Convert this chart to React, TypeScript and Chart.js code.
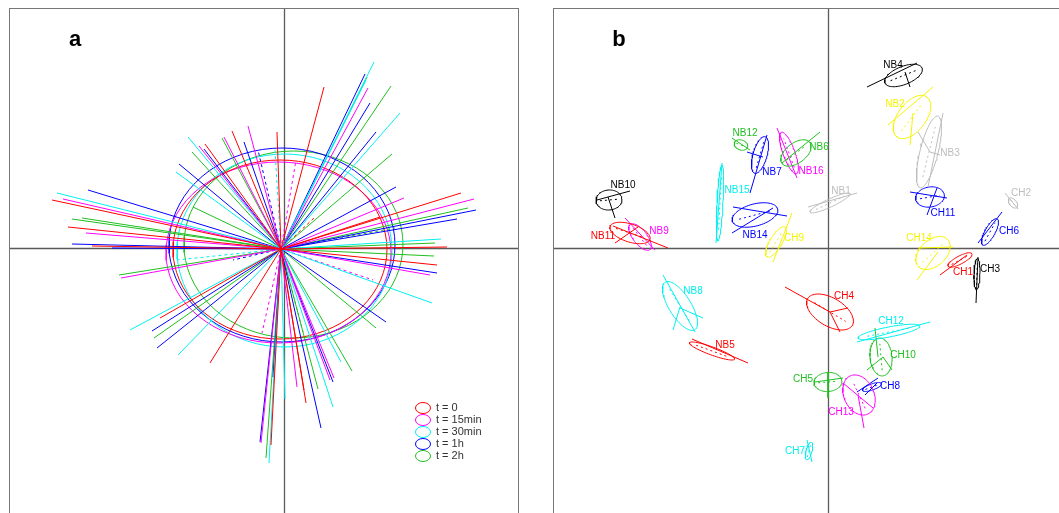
import { useEffect, useRef } from 'react';
import { Chart, registerables } from 'chart.js';
Chart.register(...registerables);

// ---------- Panel a: time points ----------
const timeLabels = ['t = 0', 't = 15min', 't = 30min', 't = 1h', 't = 2h'];
const timeColors = ['#ff0000', '#ff00ff', '#00f0f0', '#0000ff', '#1fbf1f'];
// ellipse per time point: [cx, cy, rx, ry, angleDeg]
const timeEllipses = [
  [-0.04, -0.015, 1.07, 0.895, 0],
  [-0.055, -0.045, 1.125, 0.905, 0],
  [0.005, -0.025, 1.075, 0.965, 0],
  [-0.02, 0.03, 1.13, 0.97, 0],
  [0.095, 0.035, 1.095, 0.935, 0],
];
const rayOrigin = [-0.03, -0.01];
const raysT0 = [
  [0.40, 1.61], [-0.07, 1.16], [1.77, 0.55], [0.96, 0.31], [1.63, 0.01], [1.53, -0.17],
  [0.20, -1.42], [-0.13, -1.97], [-0.74, -1.15], [-1.24, -0.70], [-2.32, 0.48],
  [-2.16, 0.21], [-1.92, 0.02], [-0.79, 1.04], [-0.52, 1.17], [0.22, -1.55],
];
const raysT15 = [
  [0.84, 1.60], [1.20, 0.50], [1.90, 0.49], [1.46, -0.27], [0.46, -1.32], [0.13, -1.39],
  [-0.23, -1.95], [-1.63, -0.30], [-2.21, 0.49], [-0.85, 1.02], [-0.60, 1.11],
  [-0.36, 1.22], [-1.98, 0.15], [0.50, -1.30],
];
const raysT30 = [
  [0.90, 1.86], [1.16, 1.35], [1.57, 0.09], [1.48, -0.55], [0.57, -1.14], [0.49, -1.59],
  [0.01, -1.51], [-0.15, -2.15], [-1.06, -1.07], [-1.54, -0.82], [-2.27, 0.55],
  [-1.08, 0.76], [-0.96, 1.11], [0.82, 1.68],
];
const raysT1h = [
  [0.81, 1.74], [0.86, 1.45], [0.92, 1.16], [1.12, 0.61], [1.92, 0.38], [1.73, 0.29],
  [1.53, -0.25], [1.02, -0.74], [0.49, -1.34], [0.37, -1.80], [-0.11, -1.29],
  [-0.24, -1.94], [-1.32, -0.83], [-1.27, -1.00], [-1.72, 0.00], [-2.12, 0.04],
  [-1.96, 0.58], [-1.05, 0.84], [-0.80, 0.99], [-0.40, 1.06],
];
const raysT2h = [
  [0.83, 1.71], [1.07, 1.62], [1.08, 0.94], [1.84, 0.40], [1.51, 0.05], [1.50, -0.08],
  [0.92, -0.80], [0.68, -1.23], [0.34, -1.41], [-0.18, -2.10], [-1.30, -0.90],
  [-1.65, -0.27], [-2.12, 0.29], [-2.02, 0.30], [-0.91, 0.41], [-0.92, 0.96], [-0.62, 1.10],
];
const timeRays = [raysT0, raysT15, raysT30, raysT1h, raysT2h];
// dashed rays: [timeIndex, x, y]
const dashedRays = [
  [1, 0.12, 0.88], [1, -0.22, -0.85], [3, -0.26, 0.98], [2, -0.09, 0.98],
  [4, 1.11, 0.20], [4, 0.19, -0.84], [1, 0.89, -0.32], [2, -1.07, -0.12],
  [3, -0.51, -0.12], [0, 0.30, 0.30],
];

// ---------- Panel b: samples ----------
const sampleNames = [
  'NB4', 'NB2', 'NB3', 'CH11', 'CH2', 'CH6', 'CH14', 'CH1', 'CH3', 'NB1',
  'NB12', 'NB7', 'NB6', 'NB16', 'NB15', 'NB14', 'CH9', 'NB10', 'NB11', 'NB9',
  'NB8', 'NB5', 'CH4', 'CH12', 'CH10', 'CH5', 'CH13', 'CH8', 'CH7',
];
const sampleColors = [
  '#000000', '#f5f500', '#bdbdbd', '#0000ff', '#bdbdbd', '#0000ff', '#f5f500', '#ff0000', '#000000', '#bdbdbd',
  '#1fbf1f', '#0000ff', '#1fbf1f', '#ff00ff', '#00f0f0', '#0000ff', '#f5f500', '#000000', '#ff0000', '#ff00ff',
  '#00f0f0', '#ff0000', '#ff0000', '#00f0f0', '#1fbf1f', '#1fbf1f', '#ff00ff', '#0000ff', '#00f0f0',
];
// [cx, cy, a, b, angleDeg]
const sampleEllipses = [
  [0.755, 1.725, 0.20, 0.09, 22], [0.84, 1.31, 0.25, 0.14, 53], [1.01, 0.96, 0.37, 0.09, 76],
  [1.02, 0.51, 0.145, 0.10, 10], [1.85, 0.45, 0.06, 0.035, -50], [1.62, 0.16, 0.15, 0.05, 61],
  [1.05, -0.05, 0.20, 0.13, 42], [1.32, -0.12, 0.135, 0.04, 28], [1.49, -0.26, 0.155, 0.03, 88],
  [0.02, 0.45, 0.22, 0.04, 25], [-0.87, 1.03, 0.07, 0.05, -20], [-0.68, 0.93, 0.19, 0.07, 74],
  [-0.32, 0.95, 0.175, 0.10, 37], [-0.39, 0.95, 0.22, 0.06, 110], [-1.08, 0.45, 0.38, 0.03, 87],
  [-0.73, 0.33, 0.235, 0.11, 15], [-0.52, 0.06, 0.175, 0.06, 59], [-2.19, 0.48, 0.13, 0.10, 5],
  [-1.98, 0.15, 0.21, 0.09, -18], [-1.88, 0.11, 0.16, 0.07, -52], [-1.48, -0.58, 0.28, 0.11, -58],
  [-1.16, -1.03, 0.24, 0.04, -20], [0.02, -0.64, 0.26, 0.14, -31], [0.61, -0.84, 0.315, 0.05, 11],
  [0.53, -1.09, 0.19, 0.11, 95], [0.00, -1.34, 0.14, 0.095, 5], [0.31, -1.47, 0.21, 0.15, 115],
  [0.44, -1.39, 0.10, 0.03, 20], [-0.19, -2.03, 0.09, 0.03, 75],
];
// segments per sample: [x1, y1, x2, y2]
const sampleSegments = [
  [[0.39, 1.61, 0.89, 1.85], [0.77, 1.76, 0.82, 1.61]],
  [[0.60, 1.23, 1.05, 1.61], [0.82, 1.03, 0.85, 1.35]],
  [[1.15, 1.35, 1.00, 0.61], [0.90, 1.16, 1.02, 0.96], [1.02, 0.96, 1.12, 0.93]],
  [[0.82, 0.56, 1.19, 0.50], [0.99, 0.33, 1.09, 0.60]],
  [[1.77, 0.55, 1.90, 0.39]],
  [[1.50, 0.05, 1.74, 0.36]],
  [[0.89, -0.32, 1.10, -0.04], [0.90, 0.00, 1.25, 0.01]],
  [[1.12, -0.27, 1.39, -0.07]],
  [[1.50, -0.09, 1.48, -0.55]],
  [[-0.20, 0.41, 0.29, 0.55]],
  [[-0.96, 1.10, -0.78, 0.98]],
  [[-0.78, 0.55, -0.61, 1.13], [-0.81, 0.96, -0.65, 0.91]],
  [[-0.46, 0.85, -0.08, 1.16]],
  [[-0.51, 1.20, -0.31, 0.70]],
  [[-1.06, 0.85, -1.12, 0.05]],
  [[-0.95, 0.41, -0.41, 0.32], [-0.96, 0.15, -0.55, 0.40]],
  [[-0.55, -0.14, -0.36, 0.35]],
  [[-2.31, 0.48, -1.98, 0.57], [-2.13, 0.30, -2.20, 0.51]],
  [[-2.15, 0.22, -1.60, 0.00], [-2.13, 0.05, -1.90, 0.21]],
  [[-2.03, 0.30, -1.73, -0.02]],
  [[-1.65, -0.27, -1.33, -0.84], [-1.55, -0.82, -1.48, -0.59], [-1.48, -0.60, -1.25, -0.70]],
  [[-1.36, -0.91, -0.80, -1.15]],
  [[-0.43, -0.39, 0.02, -0.64], [0.02, -0.64, 0.12, -0.84], [0.02, -0.64, 0.20, -0.60]],
  [[0.29, -0.94, 1.02, -0.74]],
  [[0.47, -0.80, 0.50, -1.09], [0.39, -1.22, 0.55, -1.09], [0.55, -1.09, 0.64, -1.22]],
  [[0.00, -1.25, 0.00, -1.50], [-0.13, -1.34, 0.15, -1.30]],
  [[0.15, -1.35, 0.45, -1.60], [0.30, -1.47, 0.36, -1.80]],
  [[0.29, -1.44, 0.50, -1.30], [0.37, -1.47, 0.49, -1.35]],
  [[-0.21, -1.92, -0.16, -2.14]],
];
// label anchor per sample
const sampleLabelPos = [
  [0.65, 1.83], [0.67, 1.44], [1.22, 0.95], [1.15, 0.35], [1.93, 0.55], [1.81, 0.17],
  [0.91, 0.10], [1.35, -0.24], [1.62, -0.21], [0.13, 0.57], [-0.83, 1.15], [-0.56, 0.76],
  [-0.09, 1.01], [-0.17, 0.77], [-0.91, 0.58], [-0.73, 0.13], [-0.34, 0.10], [-2.05, 0.63],
  [-2.25, 0.12], [-1.69, 0.17], [-1.35, -0.43], [-1.03, -0.97], [0.16, -0.48], [0.63, -0.73],
  [0.75, -1.07], [-0.25, -1.31], [0.13, -1.64], [0.62, -1.38], [-0.33, -2.03],
];

const xRange = [-2.75, 2.35];
const yRange = [-2.70, 2.40];
const legendAnchor = [1.39, -1.60];
const legendStep = 0.12;

function ellipsePts(e: number[]) {
  const [cx, cy, a, b, deg] = e;
  const t = (deg * Math.PI) / 180;
  const pts: { x: number; y: number }[] = [];
  for (let i = 0; i <= 72; i++) {
    const th = (2 * Math.PI * i) / 72;
    const ex = a * Math.cos(th);
    const ey = b * Math.sin(th);
    pts.push({ x: cx + ex * Math.cos(t) - ey * Math.sin(t), y: cy + ex * Math.sin(t) + ey * Math.cos(t) });
  }
  return pts;
}

function lineDs(data: { x: number; y: number }[], color: string, dash: number[] = []) {
  return {
    data,
    borderColor: color,
    backgroundColor: color,
    borderWidth: 1,
    borderDash: dash,
    showLine: true,
    pointRadius: 0,
    fill: false,
    tension: 0,
  };
}

const FONT = '"Liberation Sans", Arial, sans-serif';

function framePlugin(extra: (chart: any) => void) {
  return {
    id: 'frame',
    beforeDatasetsDraw(chart: any) {
      const { ctx, chartArea: ca, scales } = chart;
      const x0 = Math.round(scales.x.getPixelForValue(0)) + 0.5;
      const y0 = Math.round(scales.y.getPixelForValue(0)) + 0.5;
      ctx.save();
      ctx.strokeStyle = '#5a5a5a';
      ctx.lineWidth = 1.3;
      ctx.beginPath();
      ctx.moveTo(x0, ca.top);
      ctx.lineTo(x0, ca.bottom);
      ctx.moveTo(ca.left, y0);
      ctx.lineTo(ca.right, y0);
      ctx.stroke();
      ctx.restore();
    },
    afterDatasetsDraw(chart: any) {
      const { ctx, chartArea: ca } = chart;
      ctx.save();
      ctx.strokeStyle = '#777777';
      ctx.lineWidth = 1;
      ctx.strokeRect(ca.left + 0.5, ca.top + 0.5, ca.right - ca.left - 1, ca.bottom - ca.top - 1);
      ctx.restore();
      extra(chart);
    },
  };
}

function makeChart(canvas: HTMLCanvasElement, datasets: any[], extra: (chart: any) => void) {
  return new Chart(canvas, {
    type: 'scatter',
    data: { datasets },
    options: {
      animation: false,
      responsive: false,
      events: [],
      layout: { padding: 0 },
      scales: {
        x: { type: 'linear', min: xRange[0], max: xRange[1], display: false },
        y: { type: 'linear', min: yRange[0], max: yRange[1], display: false },
      },
      plugins: { legend: { display: false }, tooltip: { enabled: false } },
    } as any,
    plugins: [framePlugin(extra)],
  });
}

function panelLetter(ctx: CanvasRenderingContext2D, letter: string) {
  ctx.save();
  ctx.fillStyle = '#000';
  ctx.font = `bold 22px ${FONT}`;
  ctx.textAlign = 'center';
  ctx.textBaseline = 'middle';
  ctx.fillText(letter, 66, 32);
  ctx.restore();
}

export default function App() {
  const refA = useRef<HTMLCanvasElement>(null);
  const refB = useRef<HTMLCanvasElement>(null);

  useEffect(() => {
    // Panel a
    const dsA: any[] = [];
    timeRays.forEach((rays, i) => {
      rays.forEach(([x, y]) => {
        dsA.push(lineDs([{ x: rayOrigin[0], y: rayOrigin[1] }, { x, y }], timeColors[i]));
      });
    });
    dashedRays.forEach(([i, x, y]) => {
      dsA.push(lineDs([{ x: rayOrigin[0], y: rayOrigin[1] }, { x, y }], timeColors[i], [3, 3]));
    });
    timeEllipses.forEach((e, i) => dsA.push(lineDs(ellipsePts(e), timeColors[i])));

    const chartA = makeChart(refA.current!, dsA, (chart: any) => {
      const { ctx, scales } = chart;
      panelLetter(ctx, 'a');
      ctx.save();
      ctx.font = `11px ${FONT}`;
      ctx.textBaseline = 'middle';
      ctx.textAlign = 'left';
      timeLabels.forEach((lab, i) => {
        const px = scales.x.getPixelForValue(legendAnchor[0]);
        const py = scales.y.getPixelForValue(legendAnchor[1] - i * legendStep);
        ctx.strokeStyle = timeColors[i];
        ctx.lineWidth = 1;
        ctx.beginPath();
        ctx.ellipse(px, py, 7.5, 5.5, 0, 0, Math.PI * 2);
        ctx.stroke();
        ctx.fillStyle = '#333';
        ctx.fillText(lab, px + 13, py);
      });
      ctx.restore();
    });

    // Panel b
    const dsB: any[] = [];
    sampleEllipses.forEach((e, i) => {
      const col = sampleColors[i];
      dsB.push(lineDs(ellipsePts(e), col));
      sampleSegments[i].forEach(([x1, y1, x2, y2]) => {
        dsB.push(lineDs([{ x: x1, y: y1 }, { x: x2, y: y2 }], col));
      });
      const [cx, cy, a, , deg] = e;
      const t = (deg * Math.PI) / 180;
      dsB.push(
        lineDs(
          [
            { x: cx - 0.7 * a * Math.cos(t), y: cy - 0.7 * a * Math.sin(t) },
            { x: cx + 0.7 * a * Math.cos(t), y: cy + 0.7 * a * Math.sin(t) },
          ],
          col,
          [2, 3]
        )
      );
    });
    const chartB = makeChart(refB.current!, dsB, (chart: any) => {
      const { ctx, scales } = chart;
      panelLetter(ctx, 'b');
      ctx.save();
      ctx.font = `10px ${FONT}`;
      ctx.textAlign = 'center';
      ctx.textBaseline = 'middle';
      sampleNames.forEach((n, i) => {
        ctx.fillStyle = sampleColors[i];
        ctx.fillText(n, scales.x.getPixelForValue(sampleLabelPos[i][0]), scales.y.getPixelForValue(sampleLabelPos[i][1]));
      });
      ctx.restore();
    });

    return () => {
      chartA.destroy();
      chartB.destroy();
    };
  }, []);

  return (
    <div style={{ position: 'absolute', left: 0, top: 0, width: 1059, height: 513, overflow: 'hidden', background: '#fff' }}>
      <canvas ref={refA} width={510} height={510} style={{ position: 'absolute', left: 9, top: 8, width: 510, height: 510 }} />
      <canvas ref={refB} width={510} height={510} style={{ position: 'absolute', left: 553, top: 8, width: 510, height: 510 }} />
    </div>
  );
}
